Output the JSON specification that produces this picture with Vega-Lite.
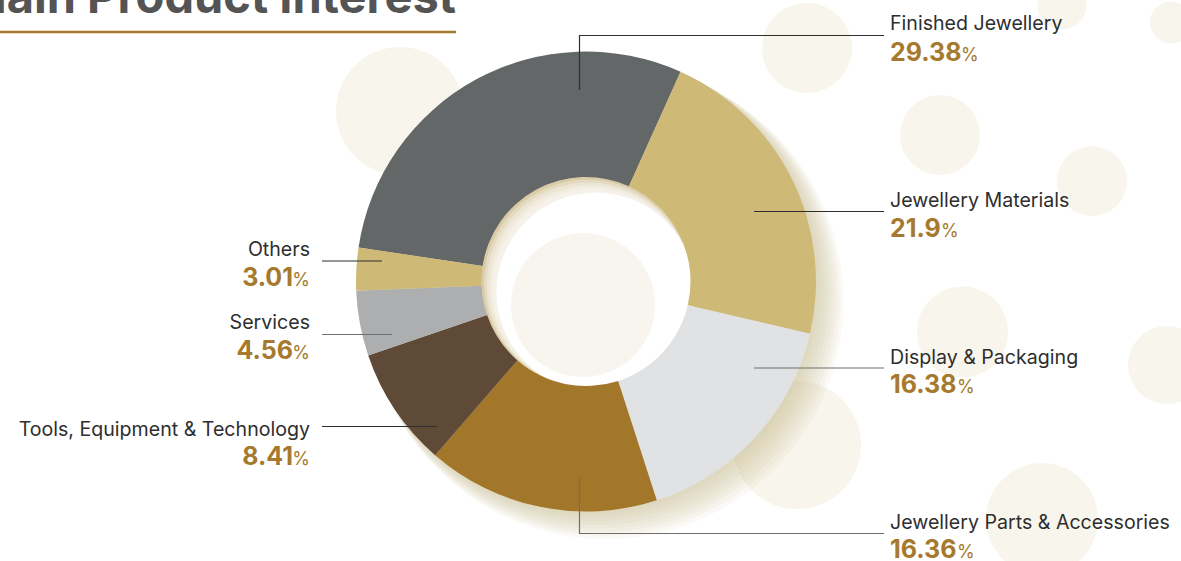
{
  "$schema": "https://vega.github.io/schema/vega-lite/v6.json",
  "width": 1172,
  "height": 563,
  "autosize": "none",
  "padding": {"left": 0, "top": 0, "right": 9, "bottom": 0},
  "background": "#ffffff",
  "config": {"view": {"stroke": null}, "axis": {"disable": true}},
  "datasets": {
    "slices": [
      {"name": "Finished Jewellery", "pct": 29.38, "idx": 1},
      {"name": "Jewellery Materials", "pct": 21.9, "idx": 2},
      {"name": "Display & Packaging", "pct": 16.38, "idx": 3},
      {"name": "Jewellery Parts & Accessories", "pct": 16.36, "idx": 4},
      {"name": "Tools, Equipment & Technology", "pct": 8.41, "idx": 5},
      {"name": "Services", "pct": 4.56, "idx": 6},
      {"name": "Others", "pct": 3.01, "idx": 7}
    ],
    "labels": [
      {"name": "Finished Jewellery", "val": "29.38", "side": "right", "lx": 890, "nx": 890, "px": 961, "ly": 29.5, "vy": 61},
      {"name": "Jewellery Materials", "val": "21.9", "side": "right", "lx": 890, "nx": 890, "px": 941, "ly": 206.5, "vy": 237},
      {"name": "Display & Packaging", "val": "16.38", "side": "right", "lx": 890, "nx": 890, "px": 957, "ly": 363.5, "vy": 393},
      {"name": "Jewellery Parts & Accessories", "val": "16.36", "side": "right", "lx": 890, "nx": 890, "px": 957, "ly": 528.5, "vy": 558},
      {"name": "Others", "val": "3.01", "side": "left", "lx": 310, "nx": 293, "px": 310, "ly": 256, "vy": 286},
      {"name": "Services", "val": "4.56", "side": "left", "lx": 310, "nx": 293, "px": 310, "ly": 329, "vy": 359},
      {"name": "Tools, Equipment & Technology", "val": "8.41", "side": "left", "lx": 310, "nx": 293, "px": 310, "ly": 436, "vy": 465}
    ],
    "lines": [
      {"g": "FJ", "o": 1, "x": 579.5, "y": 90}, {"g": "FJ", "o": 2, "x": 579.5, "y": 35.5}, {"g": "FJ", "o": 3, "x": 884, "y": 35.5},
      {"g": "JM", "o": 1, "x": 754, "y": 211.5}, {"g": "JM", "o": 2, "x": 884, "y": 211.5},
      {"g": "DP", "o": 1, "x": 754, "y": 368}, {"g": "DP", "o": 2, "x": 884, "y": 368},
      {"g": "JP", "o": 1, "x": 579.5, "y": 477}, {"g": "JP", "o": 2, "x": 579.5, "y": 533.5}, {"g": "JP", "o": 3, "x": 884, "y": 533.5},
      {"g": "OT", "o": 1, "x": 322, "y": 261}, {"g": "OT", "o": 2, "x": 382, "y": 261},
      {"g": "SV", "o": 1, "x": 322, "y": 334.5}, {"g": "SV", "o": 2, "x": 392, "y": 334.5},
      {"g": "TL", "o": 1, "x": 322, "y": 426.5}, {"g": "TL", "o": 2, "x": 437, "y": 426.5}
    ],
    "bubbles": [
      {"cx": 400, "cy": 111, "r": 64},
      {"cx": 807, "cy": 48, "r": 45},
      {"cx": 1062, "cy": 5, "r": 24.5},
      {"cx": 1171, "cy": 22.5, "r": 21},
      {"cx": 940, "cy": 135, "r": 40},
      {"cx": 1092, "cy": 181, "r": 35},
      {"cx": 962.5, "cy": 332, "r": 45.5},
      {"cx": 1167, "cy": 365, "r": 39},
      {"cx": 797, "cy": 445, "r": 64},
      {"cx": 1042, "cy": 519, "r": 56}
    ],
    "shadow": [
      {"cx": 588.5, "cy": 284, "r": 230.5},
      {"cx": 591, "cy": 286.5, "r": 231.5},
      {"cx": 593.5, "cy": 289, "r": 232.5},
      {"cx": 596, "cy": 291.5, "r": 233.5},
      {"cx": 598.5, "cy": 294, "r": 234.5},
      {"cx": 601, "cy": 296.5, "r": 235.5},
      {"cx": 603.5, "cy": 299, "r": 236.5},
      {"cx": 606, "cy": 301.5, "r": 237.5}
    ],
    "holeBase": [{"cx": 586, "cy": 281.5, "r": 104.5}],
    "holeSoft": [
      {"cx": 587.5, "cy": 283, "r": 103.5},
      {"cx": 589, "cy": 285, "r": 102.5},
      {"cx": 591, "cy": 287, "r": 101.5},
      {"cx": 593, "cy": 289, "r": 100.5}
    ],
    "holeLight": [{"cx": 596, "cy": 292, "r": 99.5}],
    "centre": [{"cx": 583, "cy": 305, "r": 72}],
    "title": [{"t": "Main Product Interest", "x": 456, "y": 12.5}],
    "underline": [{"x": 0, "x2": 456, "y": 32}]
  },
  "layer": [
    {
      "data": {"name": "bubbles"},
      "mark": {"type": "point", "shape": "circle", "filled": true, "color": "#f8f5ec", "opacity": 1, "strokeWidth": 0},
      "encoding": {
        "x": {"field": "cx", "type": "quantitative", "scale": {"domain": [0, 1172], "nice": false, "zero": false}, "axis": null},
        "y": {"field": "cy", "type": "quantitative", "scale": {"domain": [0, 563], "nice": false, "zero": false, "reverse": true}, "axis": null},
        "size": {"field": "r", "type": "quantitative", "scale": {"type": "pow", "exponent": 2, "domain": [0, 250], "range": [0, 250000]}, "legend": null}
      }
    },
    {
      "data": {"name": "shadow"},
      "mark": {"type": "point", "shape": "circle", "filled": true, "color": "#c9b78c", "opacity": 0.085, "strokeWidth": 0},
      "encoding": {
        "x": {"field": "cx", "type": "quantitative", "axis": null},
        "y": {"field": "cy", "type": "quantitative", "axis": null},
        "size": {"field": "r", "type": "quantitative", "legend": null}
      }
    },
    {
      "data": {"name": "holeBase"},
      "mark": {"type": "point", "shape": "circle", "filled": true, "color": "#d9cba6", "opacity": 1, "strokeWidth": 0},
      "encoding": {
        "x": {"field": "cx", "type": "quantitative", "axis": null},
        "y": {"field": "cy", "type": "quantitative", "axis": null},
        "size": {"field": "r", "type": "quantitative", "legend": null}
      }
    },
    {
      "data": {"name": "holeSoft"},
      "mark": {"type": "point", "shape": "circle", "filled": true, "color": "#ffffff", "opacity": 0.3, "strokeWidth": 0},
      "encoding": {
        "x": {"field": "cx", "type": "quantitative", "axis": null},
        "y": {"field": "cy", "type": "quantitative", "axis": null},
        "size": {"field": "r", "type": "quantitative", "legend": null}
      }
    },
    {
      "data": {"name": "holeLight"},
      "mark": {"type": "point", "shape": "circle", "filled": true, "color": "#ffffff", "opacity": 1, "strokeWidth": 0},
      "encoding": {
        "x": {"field": "cx", "type": "quantitative", "axis": null},
        "y": {"field": "cy", "type": "quantitative", "axis": null},
        "size": {"field": "r", "type": "quantitative", "legend": null}
      }
    },
    {
      "data": {"name": "slices"},
      "mark": {"type": "arc", "innerRadius": 104.5, "outerRadius": 230, "strokeWidth": 0},
      "encoding": {
        "theta": {"field": "pct", "type": "quantitative", "stack": true, "scale": {"range": [-1.4224, 4.8608]}},
        "order": {"field": "idx", "type": "quantitative"},
        "color": {
          "field": "name", "type": "nominal", "legend": null,
          "scale": {
            "domain": ["Finished Jewellery", "Jewellery Materials", "Display & Packaging", "Jewellery Parts & Accessories", "Tools, Equipment & Technology", "Services", "Others"],
            "range": ["#646768", "#cfb977", "#e1e2e3", "#a3772a", "#5f4a37", "#adaeb0", "#cfb977"]
          }
        }
      }
    },
    {
      "data": {"name": "centre"},
      "mark": {"type": "point", "shape": "circle", "filled": true, "color": "#f8f5ee", "opacity": 1, "strokeWidth": 0},
      "encoding": {
        "x": {"field": "cx", "type": "quantitative", "axis": null},
        "y": {"field": "cy", "type": "quantitative", "axis": null},
        "size": {"field": "r", "type": "quantitative", "legend": null}
      }
    },
    {
      "data": {"name": "lines"},
      "mark": {"type": "line", "strokeWidth": 1.2, "interpolate": "linear"},
      "encoding": {
        "x": {"field": "x", "type": "quantitative", "axis": null},
        "y": {"field": "y", "type": "quantitative", "axis": null},
        "detail": {"field": "g", "type": "nominal"},
        "order": {"field": "o", "type": "quantitative"},
        "stroke": {
          "field": "g", "type": "nominal", "legend": null,
          "scale": {"domain": ["FJ", "JM", "DP", "JP", "OT", "SV", "TL"], "range": ["#2f2f2f", "#2f2f2f", "#6e6e6e", "#6e6e6e", "#2f2f2f", "#6e6e6e", "#2f2f2f"]}
        }
      }
    },
    {
      "data": {"name": "labels"},
      "transform": [{"filter": "datum.side == 'right'"}],
      "mark": {"type": "text", "align": "left", "baseline": "alphabetic", "font": "Inter", "fontSize": 19.6, "color": "#2e2e2e"},
      "encoding": {
        "x": {"field": "lx", "type": "quantitative", "axis": null},
        "y": {"field": "ly", "type": "quantitative", "axis": null},
        "text": {"field": "name", "type": "nominal"}
      }
    },
    {
      "data": {"name": "labels"},
      "transform": [{"filter": "datum.side == 'left'"}],
      "mark": {"type": "text", "align": "right", "baseline": "alphabetic", "font": "Inter", "fontSize": 19.6, "color": "#2e2e2e"},
      "encoding": {
        "x": {"field": "lx", "type": "quantitative", "axis": null},
        "y": {"field": "ly", "type": "quantitative", "axis": null},
        "text": {"field": "name", "type": "nominal"}
      }
    },
    {
      "data": {"name": "labels"},
      "transform": [{"filter": "datum.side == 'right'"}],
      "mark": {"type": "text", "align": "left", "baseline": "alphabetic", "font": "Inter", "fontWeight": "bold", "fontSize": 25, "color": "#a67a2e"},
      "encoding": {
        "x": {"field": "nx", "type": "quantitative", "axis": null},
        "y": {"field": "vy", "type": "quantitative", "axis": null},
        "text": {"field": "val", "type": "nominal"}
      }
    },
    {
      "data": {"name": "labels"},
      "transform": [{"filter": "datum.side == 'left'"}],
      "mark": {"type": "text", "align": "right", "baseline": "alphabetic", "font": "Inter", "fontWeight": "bold", "fontSize": 25, "color": "#a67a2e"},
      "encoding": {
        "x": {"field": "nx", "type": "quantitative", "axis": null},
        "y": {"field": "vy", "type": "quantitative", "axis": null},
        "text": {"field": "val", "type": "nominal"}
      }
    },
    {
      "data": {"name": "labels"},
      "transform": [{"filter": "datum.side == 'right'"}],
      "mark": {"type": "text", "align": "left", "baseline": "alphabetic", "font": "Inter", "fontSize": 18, "color": "#a67a2e", "text": "%"},
      "encoding": {
        "x": {"field": "px", "type": "quantitative", "axis": null},
        "y": {"field": "vy", "type": "quantitative", "axis": null}
      }
    },
    {
      "data": {"name": "labels"},
      "transform": [{"filter": "datum.side == 'left'"}],
      "mark": {"type": "text", "align": "right", "baseline": "alphabetic", "font": "Inter", "fontSize": 18, "color": "#a67a2e", "text": "%"},
      "encoding": {
        "x": {"field": "px", "type": "quantitative", "axis": null},
        "y": {"field": "vy", "type": "quantitative", "axis": null}
      }
    },
    {
      "data": {"name": "title"},
      "mark": {"type": "text", "align": "right", "baseline": "alphabetic", "font": "Inter", "fontWeight": "bold", "fontSize": 47, "color": "#545454"},
      "encoding": {
        "x": {"field": "x", "type": "quantitative", "axis": null},
        "y": {"field": "y", "type": "quantitative", "axis": null},
        "text": {"field": "t", "type": "nominal"}
      }
    },
    {
      "data": {"name": "underline"},
      "mark": {"type": "rule", "color": "#a8792f", "strokeWidth": 2.5},
      "encoding": {
        "x": {"field": "x", "type": "quantitative", "axis": null},
        "x2": {"field": "x2"},
        "y": {"field": "y", "type": "quantitative", "axis": null}
      }
    }
  ]
}
